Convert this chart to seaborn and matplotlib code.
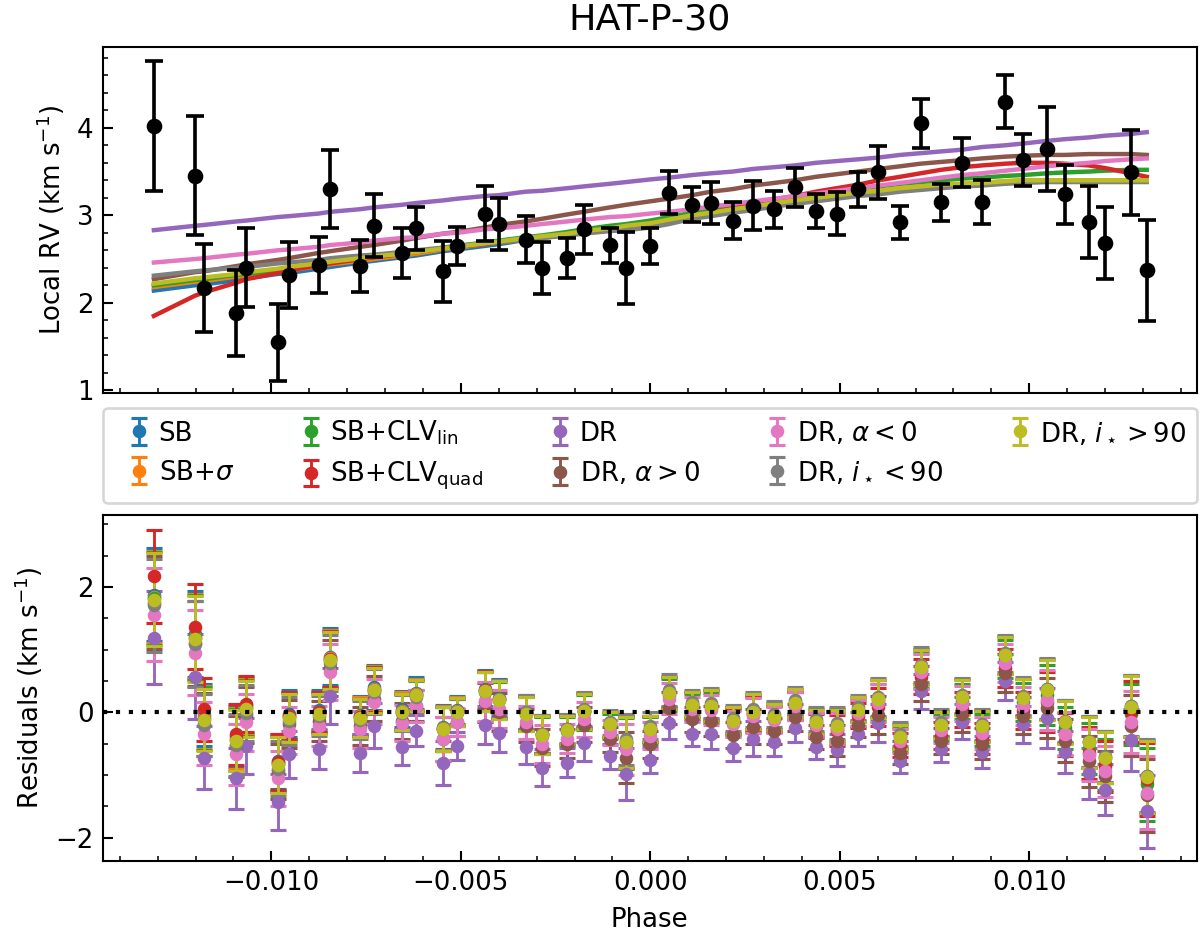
import numpy as np
import pandas as pd
import matplotlib
matplotlib.use("Agg")
import matplotlib.pyplot as plt
import seaborn as sns
from matplotlib.ticker import MultipleLocator

# ---------------- data ----------------
phase = [-0.01310, -0.01202, -0.01177, -0.01092, -0.01066, -0.00983, -0.00954, -0.00875,
         -0.00844, -0.00765, -0.00730, -0.00656, -0.00619, -0.00547, -0.00509, -0.00437,
         -0.00400, -0.00329, -0.00286, -0.00219, -0.00176, -0.00107, -0.00064, 0.00000,
         0.00049, 0.00110, 0.00160, 0.00218, 0.00271, 0.00327, 0.00381, 0.00437,
         0.00492, 0.00548, 0.00602, 0.00659, 0.00713, 0.00767, 0.00823, 0.00875,
         0.00936, 0.00983, 0.01046, 0.01093, 0.01157, 0.01200, 0.01268, 0.01310]

local_rv = [4.02, 3.45, 2.17, 1.88, 2.40, 1.55, 2.32, 2.43, 3.30, 2.42, 2.88, 2.57,
            2.85, 2.36, 2.65, 3.02, 2.90, 2.72, 2.40, 2.51, 2.84, 2.66, 2.40, 2.65,
            3.26, 3.12, 3.14, 2.94, 3.11, 3.07, 3.32, 3.05, 3.02, 3.30, 3.49, 2.92,
            4.05, 3.15, 3.60, 3.15, 4.30, 3.63, 3.76, 3.24, 2.92, 2.68, 3.49, 2.37]

local_rv_err = [0.74, 0.68, 0.50, 0.49, 0.45, 0.44, 0.38, 0.32, 0.45, 0.30, 0.36, 0.29,
                0.25, 0.35, 0.22, 0.31, 0.30, 0.27, 0.30, 0.23, 0.28, 0.20, 0.41, 0.21,
                0.25, 0.20, 0.24, 0.21, 0.28, 0.21, 0.22, 0.19, 0.25, 0.20, 0.30, 0.19,
                0.28, 0.21, 0.28, 0.25, 0.30, 0.30, 0.48, 0.34, 0.41, 0.41, 0.49, 0.58]

model_sb = [2.14, 2.20, 2.21, 2.26, 2.28, 2.33, 2.34, 2.39, 2.41, 2.46, 2.48, 2.52,
            2.54, 2.59, 2.61, 2.65, 2.67, 2.72, 2.74, 2.78, 2.81, 2.85, 2.87, 2.91,
            2.94, 2.99, 3.02, 3.06, 3.09, 3.13, 3.16, 3.19, 3.22, 3.25, 3.27, 3.30,
            3.32, 3.34, 3.35, 3.36, 3.38, 3.39, 3.39, 3.39, 3.39, 3.39, 3.39, 3.39]

model_sb_sigma = [2.18, 2.24, 2.25, 2.30, 2.31, 2.36, 2.37, 2.42, 2.44, 2.48, 2.50, 2.54,
                  2.56, 2.61, 2.63, 2.67, 2.69, 2.73, 2.75, 2.79, 2.82, 2.86, 2.88, 2.92,
                  2.95, 3.00, 3.03, 3.07, 3.10, 3.14, 3.17, 3.20, 3.23, 3.26, 3.28, 3.31,
                  3.33, 3.35, 3.36, 3.37, 3.39, 3.40, 3.40, 3.40, 3.40, 3.40, 3.40, 3.40]

model_clv_lin = [2.20, 2.26, 2.27, 2.32, 2.33, 2.38, 2.39, 2.44, 2.46, 2.50, 2.52, 2.56,
                 2.58, 2.63, 2.65, 2.69, 2.71, 2.75, 2.77, 2.81, 2.84, 2.88, 2.90, 2.94,
                 2.98, 3.03, 3.07, 3.11, 3.14, 3.18, 3.21, 3.25, 3.28, 3.31, 3.33, 3.36,
                 3.38, 3.40, 3.42, 3.43, 3.45, 3.46, 3.48, 3.49, 3.50, 3.51, 3.52, 3.52]

model_clv_quad = [1.85, 2.08, 2.12, 2.23, 2.27, 2.34, 2.37, 2.43, 2.45, 2.50, 2.52, 2.56,
                  2.58, 2.62, 2.64, 2.67, 2.69, 2.73, 2.75, 2.78, 2.81, 2.85, 2.87, 2.91,
                  2.94, 2.99, 3.03, 3.08, 3.13, 3.18, 3.22, 3.27, 3.31, 3.35, 3.40, 3.44,
                  3.48, 3.52, 3.55, 3.57, 3.59, 3.60, 3.60, 3.59, 3.57, 3.54, 3.48, 3.44]

model_dr = [2.83, 2.88, 2.89, 2.93, 2.94, 2.98, 2.99, 3.02, 3.04, 3.07, 3.09, 3.12,
            3.14, 3.17, 3.19, 3.22, 3.23, 3.27, 3.28, 3.31, 3.33, 3.36, 3.38, 3.41,
            3.43, 3.46, 3.48, 3.50, 3.53, 3.55, 3.57, 3.60, 3.62, 3.64, 3.66, 3.69,
            3.71, 3.73, 3.75, 3.78, 3.80, 3.82, 3.85, 3.87, 3.89, 3.91, 3.93, 3.95]

model_dr_apos = [2.27, 2.35, 2.36, 2.42, 2.44, 2.49, 2.51, 2.57, 2.59, 2.64, 2.66, 2.71,
                 2.74, 2.79, 2.81, 2.86, 2.89, 2.93, 2.96, 3.01, 3.04, 3.09, 3.12, 3.16,
                 3.19, 3.23, 3.27, 3.30, 3.34, 3.37, 3.40, 3.44, 3.47, 3.50, 3.53, 3.56,
                 3.59, 3.61, 3.63, 3.65, 3.67, 3.68, 3.69, 3.69, 3.70, 3.70, 3.70, 3.69]

model_dr_aneg = [2.46, 2.50, 2.51, 2.55, 2.56, 2.60, 2.61, 2.64, 2.66, 2.69, 2.71, 2.74,
                 2.75, 2.79, 2.80, 2.84, 2.85, 2.88, 2.90, 2.93, 2.95, 2.98, 2.99, 3.02,
                 3.04, 3.07, 3.10, 3.13, 3.16, 3.19, 3.22, 3.25, 3.28, 3.31, 3.34, 3.37,
                 3.40, 3.43, 3.46, 3.48, 3.51, 3.53, 3.56, 3.58, 3.60, 3.62, 3.64, 3.65]

model_dr_ilt90 = [2.31, 2.36, 2.37, 2.40, 2.41, 2.45, 2.46, 2.49, 2.51, 2.54, 2.55, 2.58,
                  2.60, 2.63, 2.65, 2.68, 2.69, 2.72, 2.74, 2.77, 2.79, 2.82, 2.83, 2.86,
                  2.90, 2.96, 2.99, 3.03, 3.06, 3.10, 3.13, 3.16, 3.19, 3.22, 3.24, 3.27,
                  3.29, 3.31, 3.33, 3.34, 3.36, 3.37, 3.38, 3.38, 3.38, 3.38, 3.38, 3.38]

model_dr_igt90 = [2.22, 2.28, 2.29, 2.33, 2.35, 2.39, 2.41, 2.45, 2.47, 2.51, 2.53, 2.56,
                  2.58, 2.62, 2.64, 2.68, 2.70, 2.74, 2.76, 2.79, 2.82, 2.85, 2.88, 2.91,
                  2.95, 3.00, 3.03, 3.07, 3.10, 3.14, 3.17, 3.20, 3.23, 3.26, 3.28, 3.31,
                  3.33, 3.35, 3.36, 3.37, 3.39, 3.40, 3.40, 3.40, 3.40, 3.40, 3.40, 3.40]

model_labels = ["SB", r"SB+$\sigma$", r"SB+CLV$_{\rm lin}$", r"SB+CLV$_{\rm quad}$",
                "DR", r"DR, $\alpha>0$", r"DR, $\alpha<0$", r"DR, $i_\star<90$",
                r"DR, $i_\star>90$"]
model_values = [model_sb, model_sb_sigma, model_clv_lin, model_clv_quad, model_dr,
                model_dr_apos, model_dr_aneg, model_dr_ilt90, model_dr_igt90]

# ---------------- figure ----------------
plt.rcParams.update({
    "font.family": ["DejaVu Sans"],
    "font.size": 10,
    "xtick.direction": "in",
    "ytick.direction": "in",
    "xtick.major.size": 4,
    "ytick.major.size": 4,
    "xtick.minor.size": 2,
    "ytick.minor.size": 2,
})

palette = sns.color_palette("tab10", 9)

fig = plt.figure(figsize=(6.4, 5.008), dpi=187.5)
ax1 = fig.add_axes([0.0856, 0.5811, 0.9117, 0.3685])
ax2 = fig.add_axes([0.0856, 0.0831, 0.9117, 0.3685], sharex=ax1)

# long-form table of models
df_models = pd.DataFrame({
    "phase": np.tile(phase, len(model_labels)),
    "rv": np.concatenate([np.asarray(m) for m in model_values]),
    "model": np.repeat(model_labels, len(phase)),
})

sns.lineplot(data=df_models, x="phase", y="rv", hue="model", hue_order=model_labels,
             palette=palette, linewidth=1.7, legend=False, errorbar=None, ax=ax1)

ax1.errorbar(phase, local_rv, yerr=local_rv_err, fmt="o", color="black", ms=5,
             elinewidth=1.4, capsize=3.5, capthick=1.4, zorder=5)

ax1.set_title("HAT-P-30", fontsize=14, pad=7)
ax1.set_ylabel(r"Local RV (km s$^{-1}$)")
ax1.set_xlabel("")
ax1.set_ylim(0.965, 4.92)
ax1.yaxis.set_major_locator(MultipleLocator(1))
ax1.yaxis.set_minor_locator(MultipleLocator(0.2))
ax1.tick_params(labelbottom=False)

# residuals
obs = np.asarray(local_rv)
for lab, vals, col in zip(model_labels, model_values, palette):
    res = obs - np.asarray(vals)
    ax2.errorbar(phase, res, yerr=local_rv_err, fmt="o", color=col, ms=4.2,
                 elinewidth=1.1, capsize=3, capthick=1.2, label=lab)

ax2.axhline(0, color="black", lw=1.6, ls=(0, (1, 2.1)), dash_capstyle="butt", zorder=10)
ax2.set_ylim(-2.37, 3.15)
ax2.yaxis.set_major_locator(MultipleLocator(2))
ax2.yaxis.set_minor_locator(MultipleLocator(0.5))
ax2.set_ylabel(r"Residuals (km s$^{-1}$)")
ax2.set_xlabel("Phase")

ax2.set_xlim(-0.01445, 0.01442)
ax2.xaxis.set_major_locator(MultipleLocator(0.005))
ax2.xaxis.set_minor_locator(MultipleLocator(0.001))

for ax in (ax1, ax2):
    ax.tick_params(which="both", direction="in", top=False, right=False)

handles, labels = ax2.get_legend_handles_labels()
fig.legend(handles, labels, loc="center", bbox_to_anchor=(0.0856, 0.459, 0.9117, 0.1118),
           mode="expand", ncol=5, fontsize=10, borderaxespad=0,
           handlelength=2.0, handletextpad=-0.25)

fig.savefig("out.png", dpi=187.5)
